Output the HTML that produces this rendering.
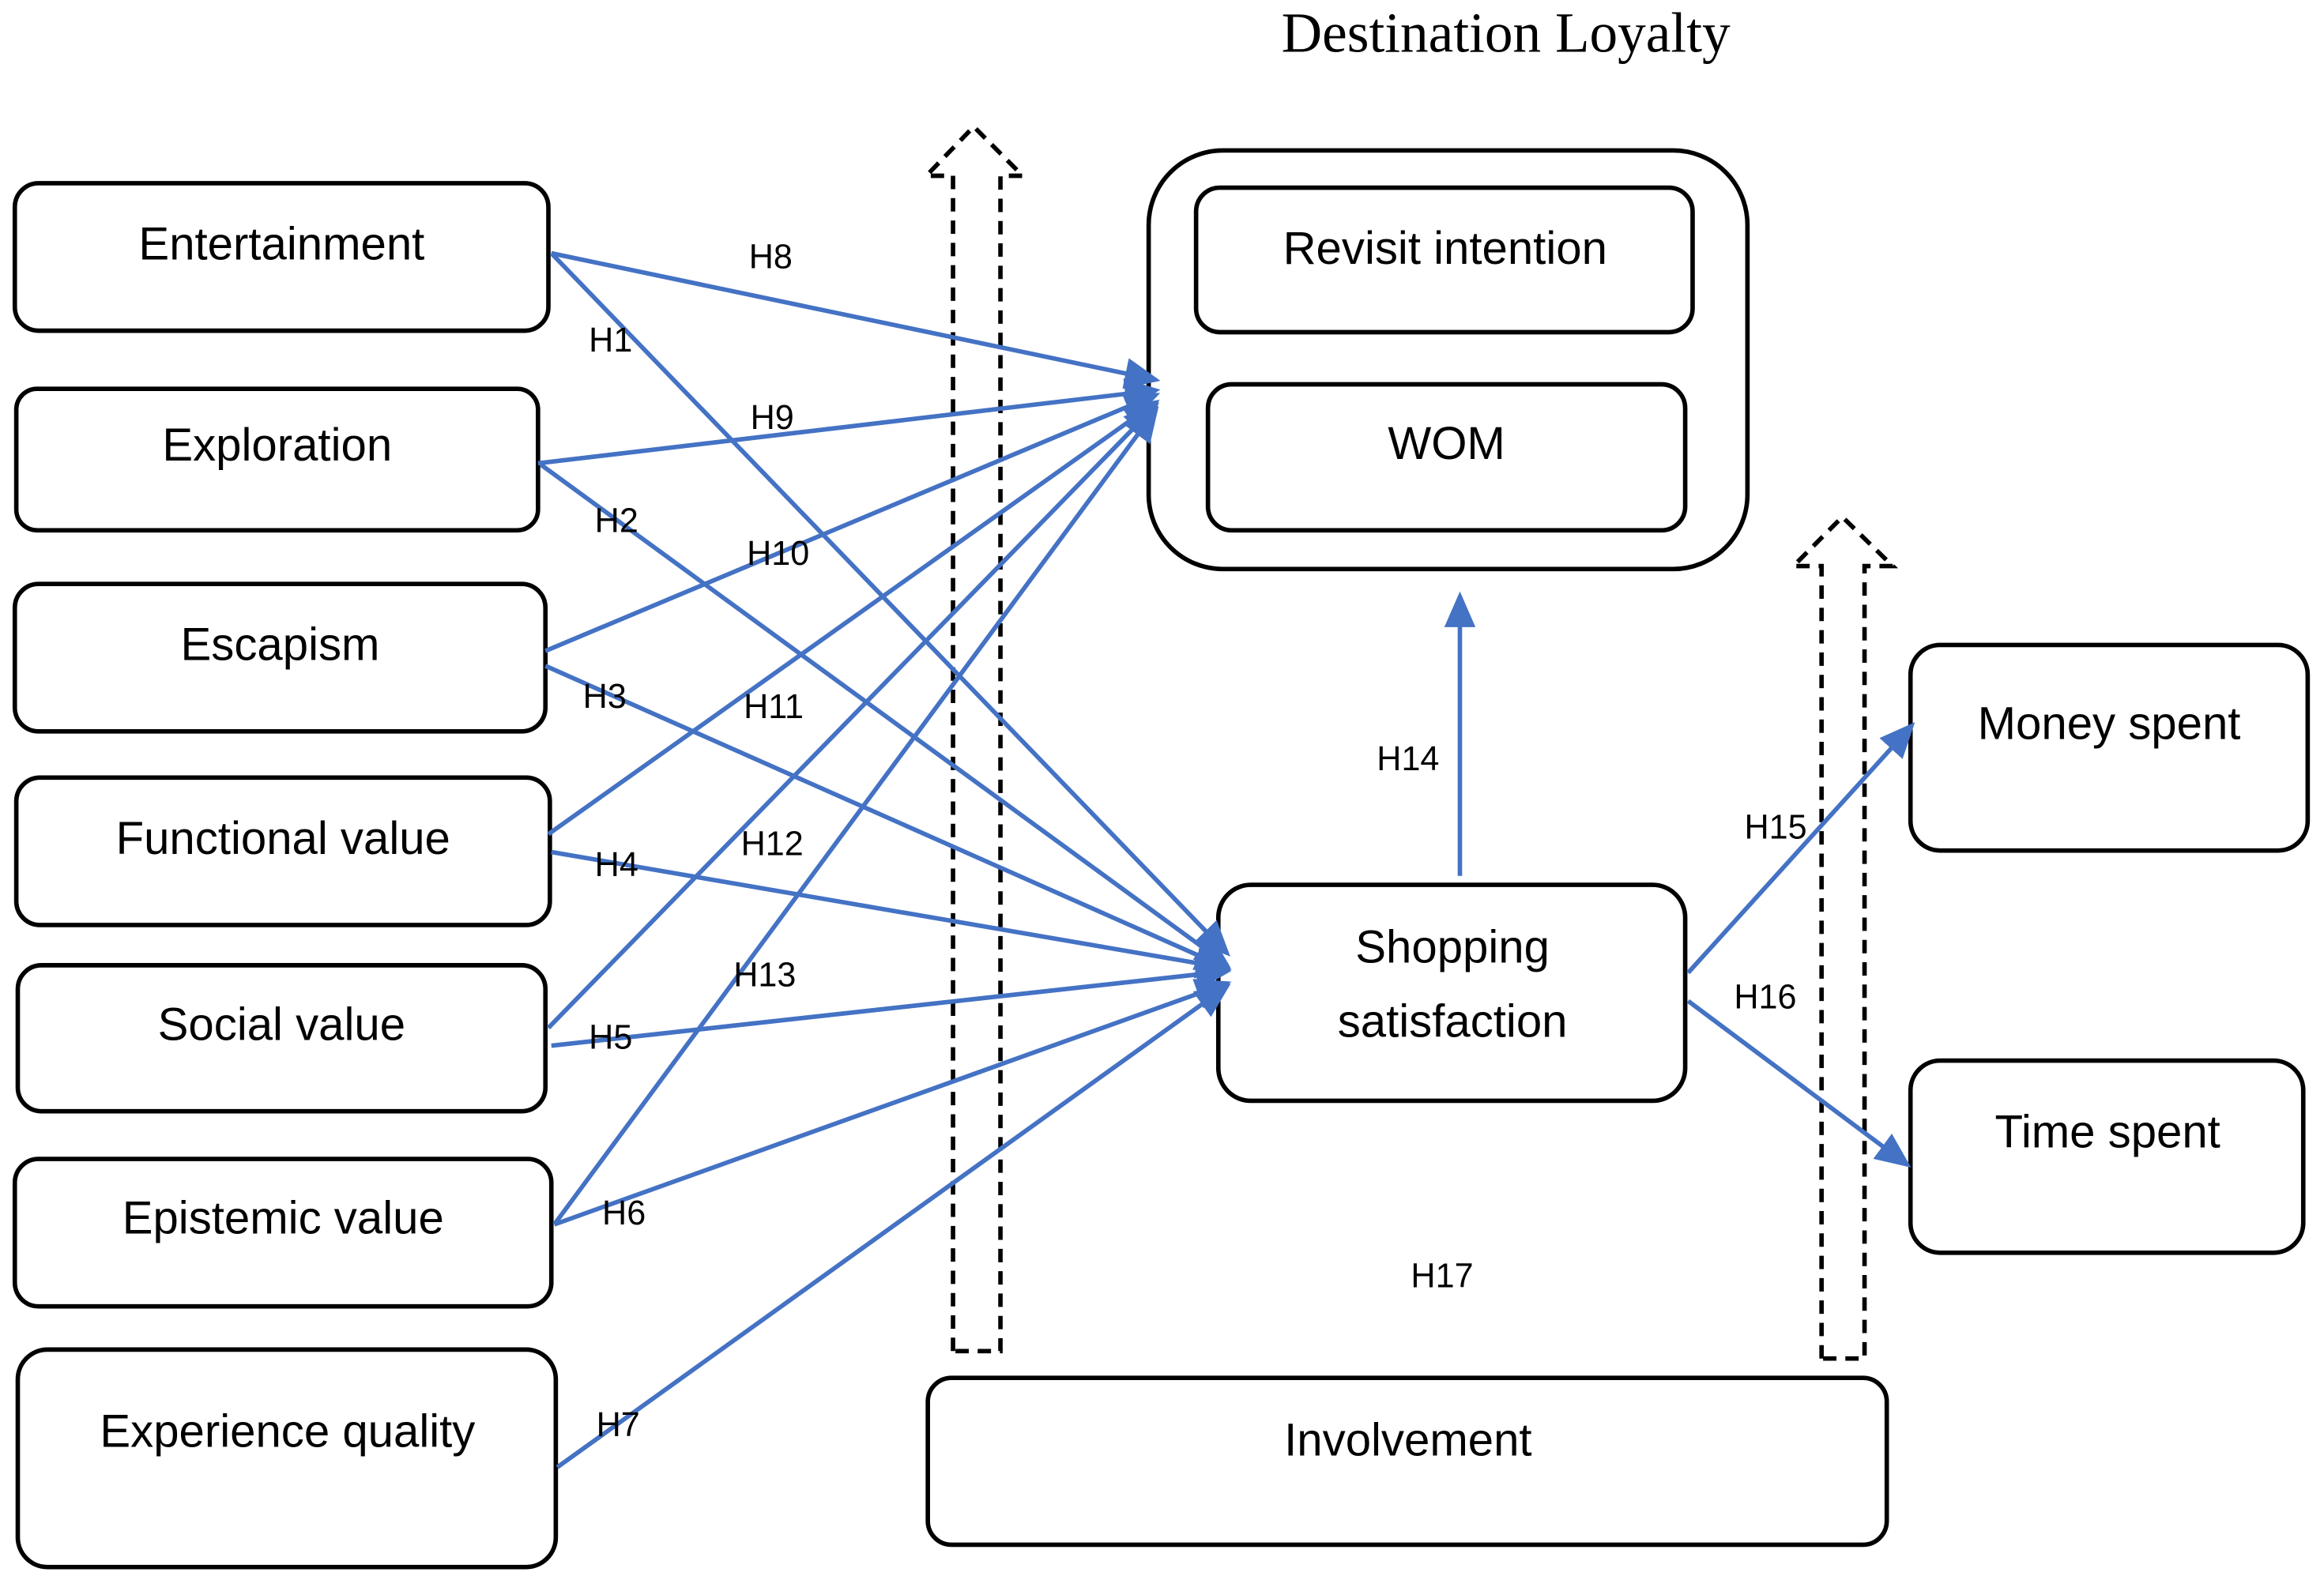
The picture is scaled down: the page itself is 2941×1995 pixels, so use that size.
<!DOCTYPE html>
<html><head><meta charset="utf-8"><style>
html,body{margin:0;padding:0;background:#fff;}
svg{display:block;}
text{font-family:"Liberation Sans",sans-serif;fill:#000;}
.b{font-size:31px;text-anchor:middle;dominant-baseline:middle;}
.h{font-size:23px;text-anchor:middle;dominant-baseline:middle;}
rect{fill:none;stroke:#000;stroke-width:3;}
.l{stroke:#4472C4;stroke-width:3;fill:none;}
.d{fill:none;stroke:#000;stroke-width:3;stroke-dasharray:9,6;}
</style></head><body>
<svg width="2941" height="1995" viewBox="0 0 1568 1058" preserveAspectRatio="none" xmlns="http://www.w3.org/2000/svg">
<defs><marker id="a" markerWidth="8" markerHeight="7" refX="7" refY="3.5" orient="auto" markerUnits="strokeWidth"><path d="M0,0 L8,3.5 L0,7 z" fill="#4472C4"/></marker></defs>
<text x="1016" y="26" style="font-family:'Liberation Serif',serif;font-size:38px;text-anchor:middle;dominant-baseline:middle;">Destination Loyalty</text>

<rect x="10" y="123" width="360" height="99" rx="16"/><text class="b" x="190" y="166">Entertainment</text>
<rect x="11" y="261" width="352" height="95" rx="14"/><text class="b" x="187" y="301">Exploration</text>
<rect x="10" y="392" width="358" height="99" rx="16"/><text class="b" x="189" y="435">Escapism</text>
<rect x="11" y="522" width="360" height="99" rx="16"/><text class="b" x="191" y="565">Functional value</text>
<rect x="12" y="648" width="356" height="98" rx="16"/><text class="b" x="190" y="690">Social value</text>
<rect x="10" y="778" width="362" height="99" rx="16"/><text class="b" x="191" y="820">Epistemic value</text>
<rect x="12" y="906" width="363" height="146" rx="20"/><text class="b" x="194" y="963">Experience quality</text>

<rect x="775" y="101" width="404" height="281" rx="50"/>
<rect x="807" y="126" width="335" height="97" rx="16"/><text class="b" x="975" y="169">Revisit intention</text>
<rect x="815" y="258" width="322" height="98" rx="16"/><text class="b" x="976" y="300">WOM</text>
<rect x="822" y="594" width="315" height="145" rx="22"/><text class="b" x="980" y="638">Shopping</text><text class="b" x="980" y="688">satisfaction</text>
<rect x="1289" y="433" width="268" height="138" rx="20"/><text class="b" x="1423" y="488">Money spent</text>
<rect x="1289" y="712" width="265" height="129" rx="20"/><text class="b" x="1422" y="762">Time spent</text>
<rect x="626" y="925" width="647" height="112" rx="16"/><text class="b" x="950" y="969">Involvement</text>

<path class="d" d="M643,907 L643,118 L625,118 L657,85 L690,118 L675,118 L675,907 Z"/>
<path class="d" d="M1229,912 L1229,380 L1210,380 L1243,347 L1277,380 L1258,380 L1258,912 Z"/>

<g class="l" marker-end="url(#a)">
<line x1="372" y1="170" x2="780" y2="255"/>
<line x1="372" y1="170" x2="828" y2="640"/>
<line x1="363" y1="311" x2="780" y2="262"/>
<line x1="365" y1="312" x2="828" y2="648"/>
<line x1="368" y1="437" x2="780" y2="265"/>
<line x1="368" y1="447" x2="828" y2="650"/>
<line x1="370" y1="560" x2="780" y2="270"/>
<line x1="372" y1="572" x2="828" y2="650"/>
<line x1="370" y1="690" x2="780" y2="272"/>
<line x1="372" y1="702" x2="828" y2="652"/>
<line x1="374" y1="822" x2="780" y2="275"/>
<line x1="374" y1="822" x2="828" y2="660"/>
<line x1="376" y1="985" x2="828" y2="662"/>
<line x1="985" y1="588" x2="985" y2="400"/>
<line x1="1139" y1="653" x2="1290" y2="487"/>
<line x1="1139" y1="672" x2="1287" y2="782"/>
</g>

<text class="h" x="520" y="174">H8</text>
<text class="h" x="412" y="230">H1</text>
<text class="h" x="521" y="282">H9</text>
<text class="h" x="416" y="351">H2</text>
<text class="h" x="525" y="373">H10</text>
<text class="h" x="408" y="469">H3</text>
<text class="h" x="522" y="476">H11</text>
<text class="h" x="416" y="582">H4</text>
<text class="h" x="521" y="568">H12</text>
<text class="h" x="412" y="698">H5</text>
<text class="h" x="516" y="656">H13</text>
<text class="h" x="421" y="816">H6</text>
<text class="h" x="417" y="958">H7</text>
<text class="h" x="950" y="511">H14</text>
<text class="h" x="1198" y="557">H15</text>
<text class="h" x="1191" y="671">H16</text>
<text class="h" x="973" y="858">H17</text>
</svg>
</body></html>
